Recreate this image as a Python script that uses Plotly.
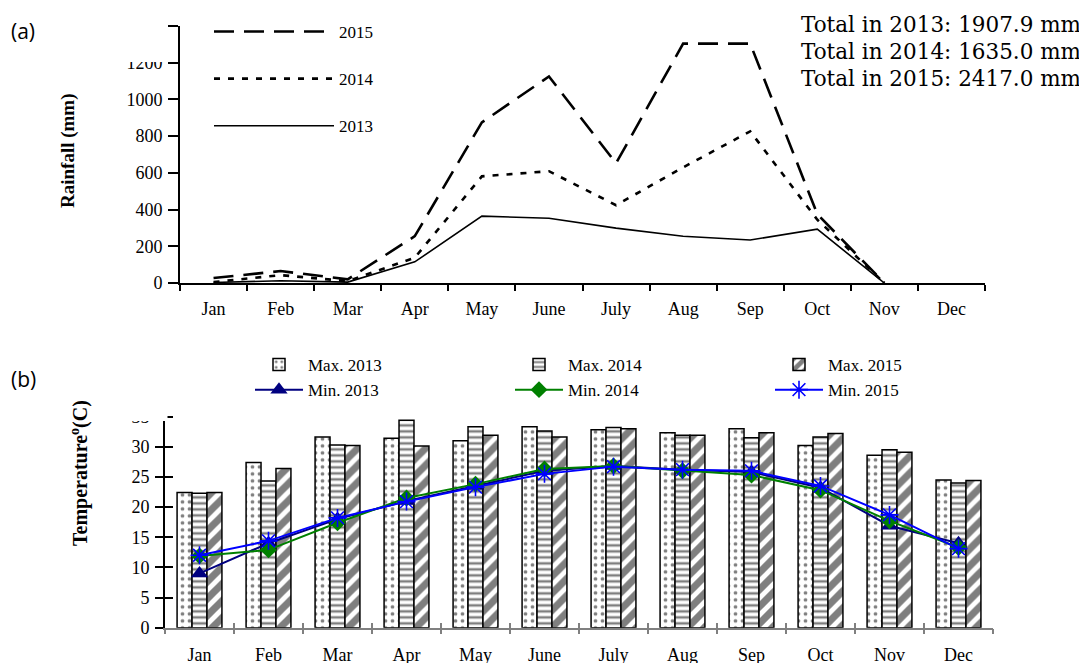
import plotly.graph_objects as go

W, H = 1087, 663
OFF = 8  # the page body margin shifts the figure by this many pixels

months = ["Jan", "Feb", "Mar", "Apr", "May", "June", "July", "Aug", "Sep", "Oct", "Nov", "Dec"]

rain_2013 = [3, 12, 5, 115, 364, 353, 299, 255, 234, 293, 0, None]
rain_2014 = [5, 43, 10, 138, 581, 609, 424, 630, 826, 345, 0, None]
rain_2015 = [27, 65, 20, 255, 875, 1125, 652, 1304, 1304, 375, 0, None]

rain_ticks = [0, 200, 400, 600, 800, 1000, 1200, 1400]
totals_text = ["Total in 2013: 1907.9 mm", "Total in 2014: 1635.0 mm", "Total in 2015: 2417.0 mm"]

max_2013 = [22.4, 27.4, 31.6, 31.4, 31.0, 33.3, 32.8, 32.3, 33.0, 30.2, 28.6, 24.5]
max_2014 = [22.3, 24.3, 30.3, 34.4, 33.3, 32.6, 33.2, 31.9, 31.5, 31.6, 29.5, 24.0]
max_2015 = [22.4, 26.4, 30.2, 30.1, 31.9, 31.6, 33.0, 31.9, 32.3, 32.2, 29.1, 24.4]
min_2013 = [9.0, 14.0, 18.0, 21.0, 23.5, 26.0, 26.8, 26.2, 25.8, 23.2, 16.9, 14.0]
min_2014 = [11.9, 12.9, 17.4, 21.5, 23.8, 26.3, 26.8, 26.0, 25.3, 22.8, 17.7, 13.3]
min_2015 = [12.0, 14.4, 18.2, 20.9, 23.3, 25.5, 26.7, 26.2, 26.0, 23.5, 18.7, 13.1]

temp_ticks = [0, 5, 10, 15, 20, 25, 30, 35, 40]

SERIF = "Liberation Serif"


def px(x):
    return (x - OFF) / W


def py(y):
    return 1 - (y - OFF) / H


fig = go.Figure()

# ---- panel (a): rainfall lines
rain_styles = [
    ("2015", rain_2015, dict(color="black", width=2.6, dash="20px,10px")),
    ("2014", rain_2014, dict(color="black", width=2.6, dash="6px,8px")),
    ("2013", rain_2013, dict(color="black", width=1.6)),
]
for name, vals, line in rain_styles:
    fig.add_trace(go.Scatter(
        x=months, y=vals, name=name, mode="lines", line=line,
        xaxis="x", yaxis="y", legend="legend", legendgroup=name,
    ))

# ---- panel (b): max temperature bars
bar_styles = [
    ("Max. 2013", "2013", max_2013, dict(shape=".", size=7, solidity=0.22)),
    ("Max. 2014", "2014", max_2014, dict(shape="-", size=6, solidity=0.42)),
    ("Max. 2015", "2015", max_2015, dict(shape="/", size=12, solidity=0.6)),
]
for name, grp, vals, pat in bar_styles:
    fig.add_trace(go.Bar(
        x=months, y=vals, name=name, legendgroup="t" + grp,
        marker=dict(color="white", line=dict(color="black", width=1.5),
                    pattern=dict(fgcolor="black", bgcolor="white", fillmode="overlay", **pat)),
        xaxis="x2", yaxis="y2", legend="legend2",
    ))

line_styles = [
    ("Min. 2013", "2013", min_2013, "#000080", dict(symbol="triangle-up", size=15, color="#000080")),
    ("Min. 2014", "2014", min_2014, "#008000", dict(symbol="diamond", size=13, color="#008000")),
    ("Min. 2015", "2015", min_2015, "#0000FF", dict(symbol="asterisk-open", size=15, color="#0000FF",
                                                     line=dict(color="#0000FF", width=1.6))),
]
for name, grp, vals, col, mk in line_styles:
    fig.add_trace(go.Scatter(
        x=months, y=vals, name=name, mode="lines+markers", legendgroup="t" + grp,
        line=dict(color=col, width=2), marker=mk,
        xaxis="x2", yaxis="y2", legend="legend2",
    ))

# invisible helper for overlay axes (cross ticks)
fig.add_trace(go.Scatter(x=[], y=[], xaxis="x3", yaxis="y3", showlegend=False, hoverinfo="skip"))

tick_font = dict(family=SERIF, size=18, color="black")
cat_range = [-0.5, len(months) - 0.5]

fig.update_layout(
    width=W, height=H,
    margin=dict(l=0, r=0, t=0, b=0, autoexpand=False),
    paper_bgcolor="white", plot_bgcolor="white",
    showlegend=True,
    barmode="group", bargap=0.35, bargroupgap=0.0,
    xaxis=dict(domain=[px(180), px(985)], anchor="y", type="category",
               categoryorder="array", categoryarray=months, range=cat_range,
               showline=True, linecolor="black", linewidth=2, mirror=False,
               ticks="outside", ticklen=6, tickwidth=2, tickcolor="black",
               tickson="boundaries", showgrid=False, zeroline=False,
               tickfont=tick_font, ticklabelstandoff=8),
    yaxis=dict(domain=[py(283), py(26)], anchor="x", range=[0, 1400],
               tickmode="array", tickvals=rain_ticks,
               showline=True, linecolor="black", linewidth=2,
               ticks="outside", ticklen=10, tickwidth=2, tickcolor="black",
               showgrid=False, zeroline=False, tickfont=tick_font, ticklabelstandoff=2),
    xaxis2=dict(domain=[px(165), px(993)], anchor="y2", type="category",
                categoryorder="array", categoryarray=months, range=cat_range,
                showline=True, linecolor="#808080", linewidth=1.5,
                ticks="outside", ticklen=5, tickwidth=1.5, tickcolor="#808080",
                tickson="boundaries", showgrid=False, zeroline=False,
                tickfont=tick_font, ticklabelstandoff=10),
    yaxis2=dict(domain=[py(627.7), py(386.4)], anchor="x2", range=[0, 40],
                tickmode="array", tickvals=temp_ticks,
                showline=True, linecolor="black", linewidth=2,
                ticks="outside", ticklen=8, tickwidth=2, tickcolor="black",
                showgrid=False, zeroline=False, tickfont=tick_font, ticklabelstandoff=2),
    xaxis3=dict(overlaying="x2", anchor="y2", type="linear", range=cat_range,
                tickmode="array", tickvals=[i - 0.5 for i in range(len(months) + 1)],
                ticks="inside", ticklen=5, tickwidth=1.5, tickcolor="#808080",
                showticklabels=False, showline=False, showgrid=False, zeroline=False),
    yaxis3=dict(overlaying="y2", anchor="x2", side="left", range=[0, 40],
                tickmode="array", tickvals=temp_ticks,
                ticks="inside", ticklen=8, tickwidth=2, tickcolor="black",
                showticklabels=False, showline=False, showgrid=False, zeroline=False),
    legend=dict(x=px(209), y=py(14), xanchor="left", yanchor="top",
                orientation="v", traceorder="grouped", tracegroupgap=22,
                itemwidth=120, bgcolor="rgba(0,0,0,0)",
                font=dict(family=SERIF, size=17, color="black")),
    legend2=dict(x=px(250), y=py(347), xanchor="left", yanchor="top",
                 orientation="h", traceorder="grouped", entrywidth=197, entrywidthmode="pixels",
                 itemwidth=48, bgcolor="rgba(0,0,0,0)", tracegroupgap=0,
                 font=dict(family=SERIF, size=17, color="black")),
)

shapes = [
    # white boxes that hide the top of the y axes (as in the original figure)
    dict(type="rect", xref="paper", yref="paper", x0=px(95), x1=px(168), y0=py(0), y1=py(62),
         fillcolor="white", line=dict(width=0), layer="above"),
    dict(type="rect", xref="paper", yref="paper", x0=px(95), x1=px(167.5), y0=py(370), y1=py(421),
         fillcolor="white", line=dict(width=0), layer="above"),
]
fig.update_layout(shapes=shapes)

annotations = [
    dict(text="(a)", x=px(9), y=py(31), xref="paper", yref="paper", xanchor="left", yanchor="middle",
         showarrow=False, font=dict(family="Open Sans", size=21, color="black")),
    dict(text="(b)", x=px(9), y=py(379), xref="paper", yref="paper", xanchor="left", yanchor="middle",
         showarrow=False, font=dict(family="Open Sans", size=21, color="black")),
    dict(text="<b>Rainfall (mm)</b>", x=px(68), y=py(151), xref="paper", yref="paper",
         xanchor="center", yanchor="middle", textangle=-90, showarrow=False,
         font=dict(family=SERIF, size=19, color="black")),
    dict(text="<b>Temperature<sup>o</sup>(C)</b>", x=px(80), y=py(473), xref="paper", yref="paper",
         xanchor="center", yanchor="middle", textangle=-90, showarrow=False,
         font=dict(family=SERIF, size=20, color="black")),
]
for i, t in enumerate(totals_text):
    annotations.append(dict(text=t, x=px(799), y=py(24 + 27.5 * i), xref="paper", yref="paper",
                            xanchor="left", yanchor="middle", showarrow=False,
                            font=dict(family="DejaVu Serif", size=21.5, color="black")))
fig.update_layout(annotations=annotations)

fig.write_html("out.html")
